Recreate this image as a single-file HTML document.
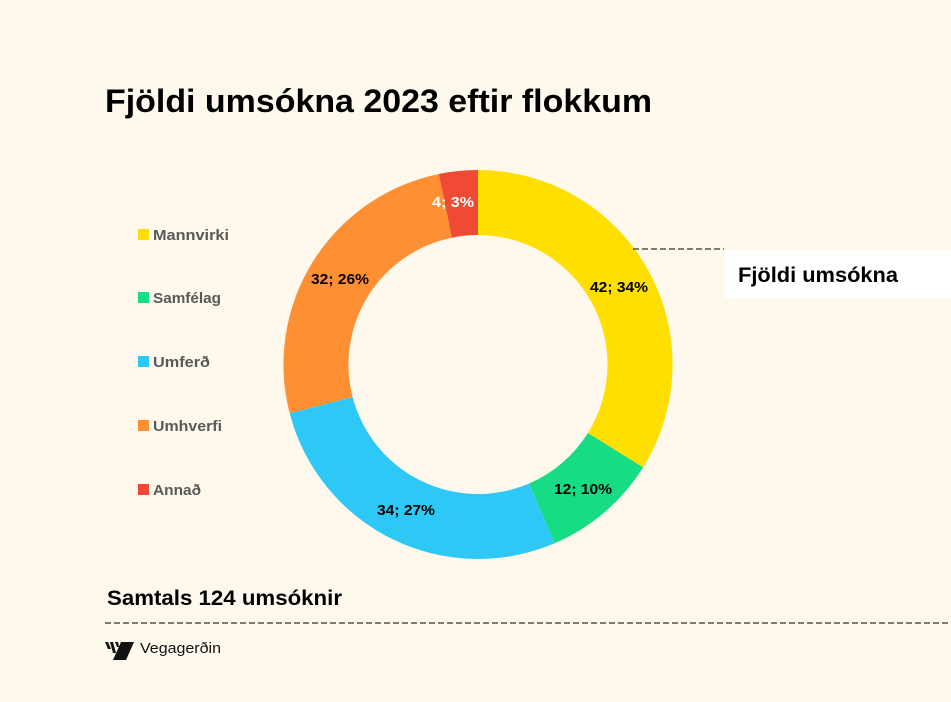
<!DOCTYPE html><html><head><style>
body{margin:0;width:951px;height:697px;background:#fef9ec;font-family:"Liberation Sans",sans-serif;overflow:hidden}
</style></head><body>
<svg width="951" height="697" xmlns="http://www.w3.org/2000/svg" font-family="Liberation Sans, sans-serif">
<rect width="951" height="697" fill="#fef9ec"/>
<text x="105" y="112" font-size="32" font-weight="bold" fill="#000" textLength="547" lengthAdjust="spacingAndGlyphs">Fjöldi umsókna 2023 eftir flokkum</text>
<path d="M478,170 A194.5,194.5 0 0 1 643.1,467.4 L587.9,433 A129.5,129.5 0 0 0 478,235 Z" fill="#ffdf00"/>
<path d="M643.1,467.4 A194.5,194.5 0 0 1 554.7,543.2 L529.1,483.5 A129.5,129.5 0 0 0 587.9,433 Z" fill="#16dc84"/>
<path d="M554.7,543.2 A194.5,194.5 0 0 1 289.7,413.3 L352.6,397 A129.5,129.5 0 0 0 529.1,483.5 Z" fill="#2ec8f7"/>
<path d="M289.7,413.3 A194.5,194.5 0 0 1 438.8,174 L451.9,237.7 A129.5,129.5 0 0 0 352.6,397 Z" fill="#ff8f33"/>
<path d="M438.8,174 A194.5,194.5 0 0 1 478,170 L478,235 A129.5,129.5 0 0 0 451.9,237.7 Z" fill="#f04a35"/>
<g font-size="15" font-weight="bold" text-anchor="middle">
<text x="619" y="292" textLength="58" lengthAdjust="spacingAndGlyphs">42; 34%</text>
<text x="583" y="494" textLength="58" lengthAdjust="spacingAndGlyphs">12; 10%</text>
<text x="406" y="515" textLength="58" lengthAdjust="spacingAndGlyphs">34; 27%</text>
<text x="340" y="284" textLength="58" lengthAdjust="spacingAndGlyphs">32; 26%</text>
<text x="453" y="207" fill="#fff" textLength="42" lengthAdjust="spacingAndGlyphs">4; 3%</text>
</g>
<line x1="633" y1="249" x2="724" y2="249" stroke="#000" stroke-dasharray="6,3"/>
<rect x="724" y="250" width="227" height="48" fill="#fff"/>
<text x="738" y="282" font-size="21" font-weight="bold" textLength="160" lengthAdjust="spacingAndGlyphs">Fjöldi umsókna</text>
<g font-size="15" font-weight="bold" fill="#595959">
<rect x="138" y="229" width="11" height="11" fill="#ffdf00"/><text x="153" y="240" textLength="76" lengthAdjust="spacingAndGlyphs">Mannvirki</text>
<rect x="138" y="292" width="11" height="11" fill="#16dc84"/><text x="153" y="303" textLength="68" lengthAdjust="spacingAndGlyphs">Samfélag</text>
<rect x="138" y="356" width="11" height="11" fill="#2ec8f7"/><text x="153" y="367" textLength="57" lengthAdjust="spacingAndGlyphs">Umferð</text>
<rect x="138" y="420" width="11" height="11" fill="#ff8f33"/><text x="153" y="431" textLength="69" lengthAdjust="spacingAndGlyphs">Umhverfi</text>
<rect x="138" y="484" width="11" height="11" fill="#f04a35"/><text x="153" y="495" textLength="48" lengthAdjust="spacingAndGlyphs">Annað</text>
</g>
<text x="107" y="605" font-size="21" font-weight="bold" textLength="235" lengthAdjust="spacingAndGlyphs">Samtals 124 umsóknir</text>
<line x1="105" y1="623" x2="951" y2="623" stroke="#000" stroke-dasharray="6,3"/>
<g fill="#111">
<polygon points="121,642 134,642 126,660 113,660"/>
<polygon points="105,642 108,642 111,649 108,649"/>
<polygon points="110,642 113,642 116,653 113,653"/>
<polygon points="115,642 118,642 119,647 117,647"/>
</g>
<text x="140" y="653" font-size="15" fill="#111" textLength="81" lengthAdjust="spacingAndGlyphs">Vegagerðin</text>
</svg>
</body></html>
